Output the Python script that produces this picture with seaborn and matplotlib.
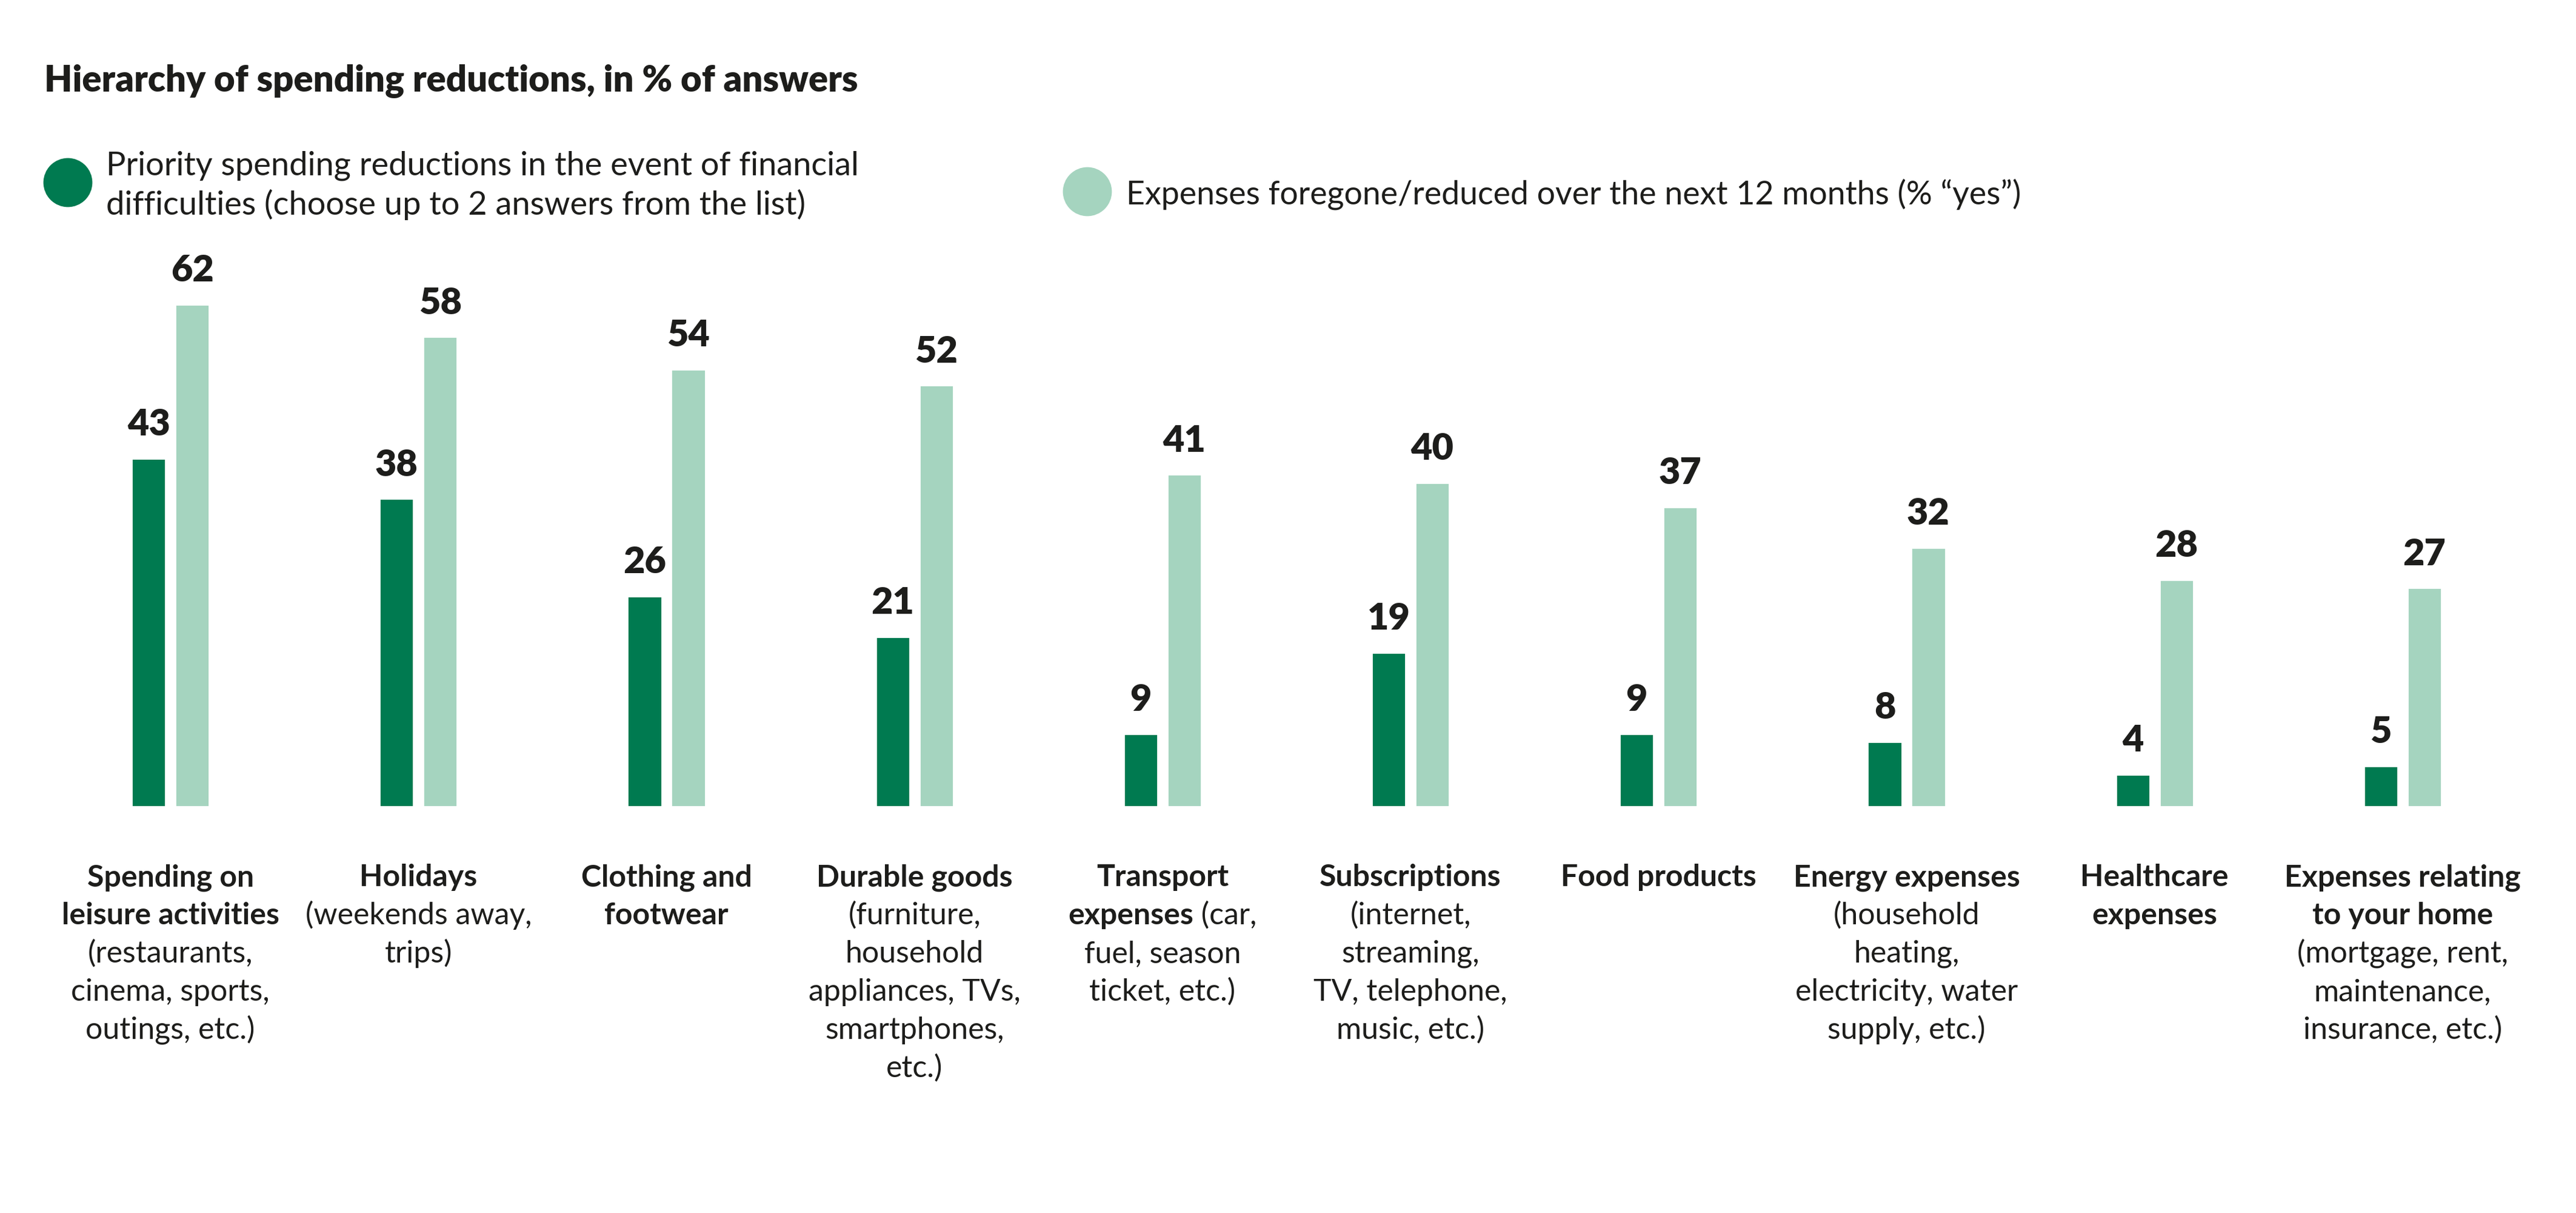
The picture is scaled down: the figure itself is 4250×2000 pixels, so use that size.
import numpy as np
import pandas as pd
import matplotlib
matplotlib.use("Agg")
import matplotlib.pyplot as plt
import matplotlib.transforms as mtransforms
from matplotlib.patches import Circle
import seaborn as sns

# data
categories = ["Leisure", "Holidays", "Clothing", "Durable", "Transport",
              "Subscriptions", "Food", "Energy", "Healthcare", "Home"]
priority = [43, 38, 26, 21, 9, 19, 9, 8, 4, 5]
foregone = [62, 58, 54, 52, 41, 40, 37, 32, 28, 27]

series_names = ["Priority spending reductions in the event of financial\ndifficulties (choose up to 2 answers from the list)",
                "Expenses foregone/reduced over the next 12 months (% \u201cyes\u201d)"]

# tick label lines, **bold** parts marked
tick_lines = [
    ["**Spending on**", "**leisure activities**", "(restaurants,", "cinema, sports,", "outings, etc.)"],
    ["**Holidays**", "(weekends away,", "trips)"],
    ["**Clothing and**", "**footwear**"],
    ["**Durable goods**", "(furniture,", "household", "appliances, TVs,", "smartphones,", "etc.)"],
    ["**Transport**", "**expenses** (car,", "fuel, season", "ticket, etc.)"],
    ["**Subscriptions**", "(internet,", "streaming,", "TV, telephone,", "music, etc.)"],
    ["**Food products**"],
    ["**Energy expenses**", "(household", "heating,", "electricity, water", "supply, etc.)"],
    ["**Healthcare**", "**expenses**"],
    ["**Expenses relating**", "**to your home**", "(mortgage, rent,", "maintenance,", "insurance, etc.)"],
]

title = "Hierarchy of spending reductions, in % of answers"

dark = "#007a50"
light = "#a5d4bf"
ink = "#1d1d1b"

sns.set_theme(style="white")
plt.rcParams["font.family"] = ["Lato", "DejaVu Sans"]

df = pd.DataFrame({
    "cat": categories * 2,
    "value": priority + foregone,
    "series": [series_names[0]] * len(categories) + [series_names[1]] * len(categories),
})

W, H, DPI = 4250, 2000, 200
fig = plt.figure(figsize=(W / DPI, H / DPI), dpi=DPI)
ax = fig.add_axes([76.5 / W, 670 / H, 4092 / W, 935 / H])

sns.barplot(data=df, x="cat", y="value", hue="series", order=categories,
            hue_order=series_names, palette=[dark, light], saturation=1,
            width=0.352, gap=0.22, errorbar=None, legend=False, ax=ax)

ax.set_xlim(-0.5, len(categories) - 0.5)
ax.set_ylim(0, 70)
ax.set_xlabel("")
ax.set_ylabel("")
ax.set_xticks([])
ax.set_yticks([])
sns.despine(ax=ax, left=True, bottom=True)

for cont in ax.containers:
    ax.bar_label(cont, fmt="%d", padding=10, fontsize=22, fontweight="heavy", color=ink)

# title
fig.text(73 / W, 1 - 150 / H, title, fontsize=21.5, fontweight="heavy", color=ink)

# legend
fig.add_artist(Circle((112 / DPI, (H - 301) / DPI), 39 / DPI, color=dark,
                      transform=fig.dpi_scale_trans))
fig.add_artist(Circle((1794 / DPI, (H - 316) / DPI), 39 / DPI, color=light,
                      transform=fig.dpi_scale_trans))
for i, line in enumerate(series_names[0].split("\n")):
    fig.text(175 / W, 1 - (289 + 65 * i) / H, line, fontsize=19.5, color=ink)
fig.text(1858 / W, 1 - 337 / H, series_names[1], fontsize=19.3, color=ink)

# category labels with mixed bold / regular segments, centred under each group
renderer = fig.canvas.get_renderer()
px_per_unit = ax.transData.transform((1, 0))[0] - ax.transData.transform((0, 0))[0]
trans = mtransforms.blended_transform_factory(ax.transData, fig.transFigure)
for i, lines in enumerate(tick_lines):
    for j, line in enumerate(lines):
        y = 1 - (1461 + 63 * j) / H
        parts = line.split("**")
        texts = []
        for k, seg in enumerate(parts):
            if not seg:
                continue
            t = ax.text(i, y, seg, transform=trans, fontsize=18, color=ink,
                        fontweight="bold" if k % 2 else "normal",
                        ha="left", va="baseline")
            texts.append(t)
        widths = [t.get_window_extent(renderer).width for t in texts]
        x = i - sum(widths) / 2 / px_per_unit
        for t, w in zip(texts, widths):
            t.set_x(x)
            x += w / px_per_unit

fig.savefig("out.png", dpi=DPI, facecolor="white")
